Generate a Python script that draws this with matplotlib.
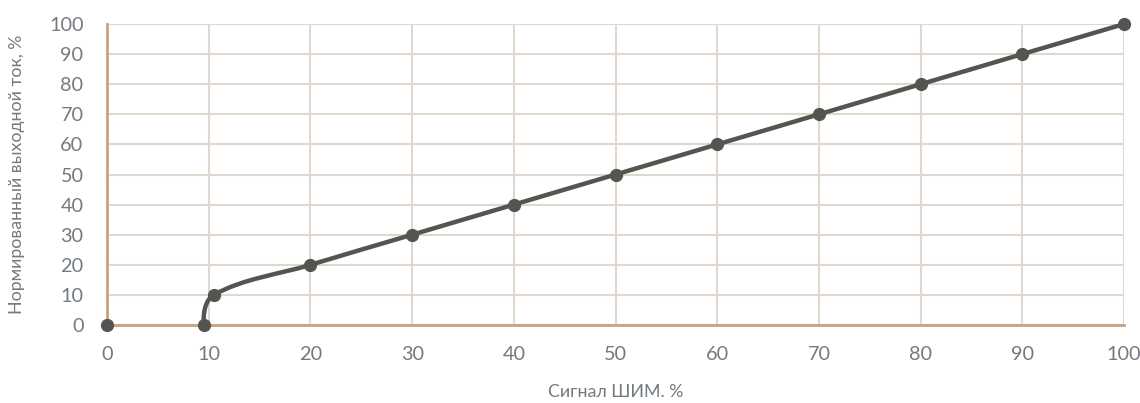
import matplotlib
matplotlib.use("Agg")
import matplotlib.pyplot as plt
import numpy as np
from matplotlib.path import Path
from matplotlib.patches import PathPatch

plt.rcParams['font.family'] = ['Lato', 'DejaVu Sans']

# Data
pwm = [0, 9.5, 10.5, 20, 30, 40, 50, 60, 70, 80, 90, 100]
current = [0, 0, 10, 20, 30, 40, 50, 60, 70, 80, 90, 100]
xticks = list(range(0, 101, 10))
yticks = list(range(0, 101, 10))

line_color = '#545550'
grid_color = '#e2d7cf'
spine_color = '#c8a27f'
text_color = '#737a80'

fig = plt.figure(figsize=(11.4, 4.03), dpi=100)
ax = fig.add_axes([0.0939, 0.1935, 0.8921, 0.7469])
ax.set_xlim(0, 100)
ax.set_ylim(0, 100)
ax.set_xticks(xticks)
ax.set_yticks(yticks)
ax.grid(True, color=grid_color, linewidth=1.5)
ax.set_axisbelow(True)
for s in ['top', 'right']:
    ax.spines[s].set_visible(False)
for s in ['left', 'bottom']:
    ax.spines[s].set_color(spine_color)
    ax.spines[s].set_linewidth(2)
ax.tick_params(length=0, labelsize=14.3, labelcolor=text_color)
ax.tick_params(axis='x', pad=15)
ax.tick_params(axis='y', pad=17)
ax.set_xlabel('Сигнал ШИМ. %', fontsize=12.8, color=text_color, labelpad=15)
ax.set_ylabel('Нормированный выходной ток, %', fontsize=12.8, color=text_color,
              labelpad=17)

# Smoothed line (from second point onward), built in display space
pts = np.array(list(zip(pwm[1:], current[1:])), dtype=float)
disp = ax.transData.transform(pts)
n = len(disp)
tang = np.zeros_like(disp)
for i in range(1, n - 1):
    d = disp[i + 1] - disp[i - 1]
    tang[i] = d / np.linalg.norm(d)
tang[0] = np.array([-0.05, 1.0]) / np.linalg.norm([-0.05, 1.0])
tang[-1] = (disp[-1] - disp[-2]) / np.linalg.norm(disp[-1] - disp[-2])
verts = [disp[0]]
codes = [Path.MOVETO]
for i in range(n - 1):
    L = np.linalg.norm(disp[i + 1] - disp[i]) / 3
    verts += [disp[i] + tang[i] * L, disp[i + 1] - tang[i + 1] * L, disp[i + 1]]
    codes += [Path.CURVE4] * 3
verts = ax.transData.inverted().transform(np.array(verts))
patch = PathPatch(Path(verts, codes), facecolor='none', edgecolor=line_color,
                  linewidth=3.2, capstyle='round', joinstyle='round', zorder=3)
ax.add_patch(patch)
ax.plot(pwm, current, linestyle='none', marker='o', markersize=8.5,
        color=line_color, clip_on=False, zorder=4)

fig.savefig('out.png', dpi=100)
